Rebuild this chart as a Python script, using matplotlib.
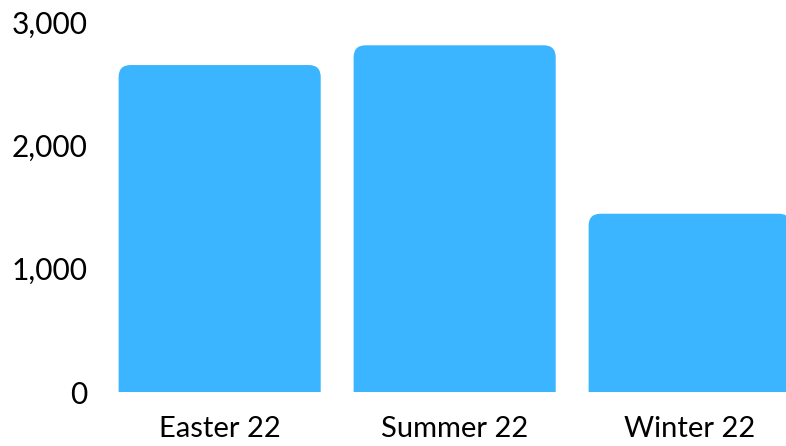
import matplotlib.pyplot as plt
from matplotlib.patches import PathPatch
from matplotlib.path import Path
from matplotlib.ticker import FuncFormatter

categories = ["Easter 22", "Summer 22", "Winter 22"]
values = [2650, 2810, 1445]
yticks = [0, 1000, 2000, 3000]

color = "#3bb5ff"

fig = plt.figure(figsize=(7.86, 4.46), dpi=100)
ax = fig.add_axes([0.127, 0.121, 0.873, 0.83])

bars = ax.bar(range(len(categories)), values, width=0.86, color=color)
ax.set_xlim(-0.51, 2.41)
ax.set_ylim(0, 3000)

# replace plain bars with ones that have rounded top corners
fig.canvas.draw()
px_x = ax.transData.transform((1, 0))[0] - ax.transData.transform((0, 0))[0]
px_y = ax.transData.transform((0, 1000))[1] - ax.transData.transform((0, 0))[1]
r = 12
rx = r / px_x
ry = r / px_y * 1000
for b in bars:
    x0, y0, w, h = b.get_x(), b.get_y(), b.get_width(), b.get_height()
    x1, top = x0 + w, y0 + h
    b.set_visible(False)
    verts = [(x0, y0), (x0, top - ry), (x0, top), (x0 + rx, top),
             (x1 - rx, top), (x1, top), (x1, top - ry), (x1, y0), (x0, y0)]
    codes = [Path.MOVETO, Path.LINETO, Path.CURVE3, Path.CURVE3,
             Path.LINETO, Path.CURVE3, Path.CURVE3, Path.LINETO, Path.CLOSEPOLY]
    ax.add_patch(PathPatch(Path(verts, codes), fc=color, ec="none"))

ax.set_xticks(range(len(categories)))
ax.set_xticklabels(categories, fontsize=21, family="Lato")
ax.set_yticks(yticks)
ax.yaxis.set_major_formatter(FuncFormatter(lambda v, p: f"{int(v):,}"))
for t in ax.get_yticklabels():
    t.set_fontsize(21.5)
    t.set_family("Lato")
ax.tick_params(axis="x", length=0, pad=17)
ax.tick_params(axis="y", length=0, pad=9)
for s in ax.spines.values():
    s.set_visible(False)

fig.savefig("out.png", dpi=100)
